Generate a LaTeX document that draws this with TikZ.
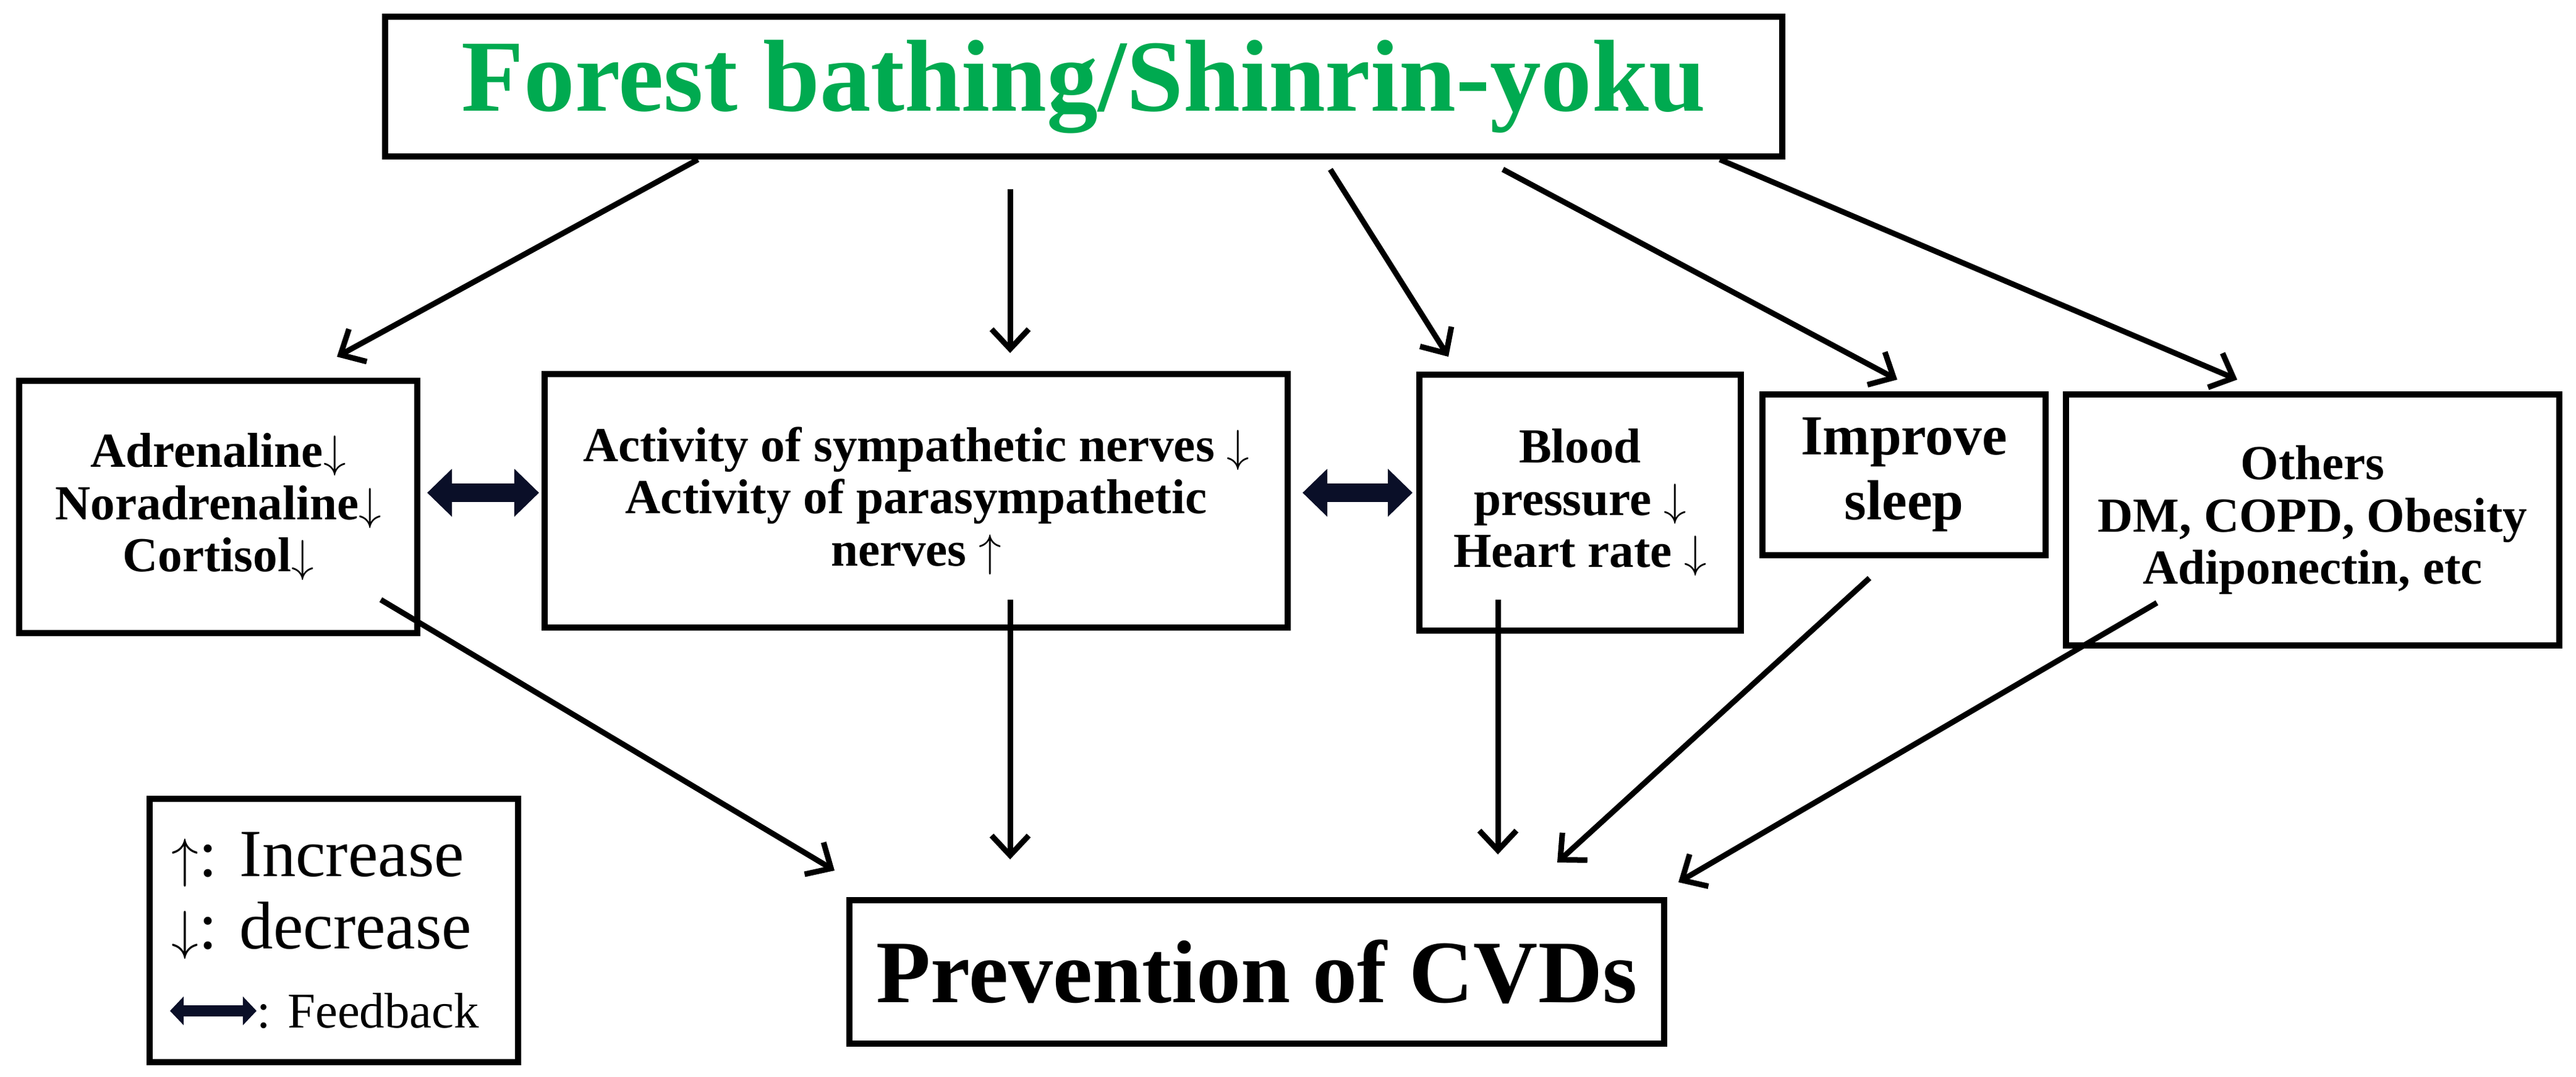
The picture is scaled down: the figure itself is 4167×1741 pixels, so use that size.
\documentclass[tikz,border=0pt]{standalone}
\usepackage{fontspec}
\setmainfont{Liberation Serif}
\newfontfamily\ser{Liberation Serif}
\usetikzlibrary{arrows.meta}
\definecolor{fgreen}{RGB}{0,170,80}
\definecolor{navy}{RGB}{10,15,40}
\begin{document}
\begin{tikzpicture}[x=0.01cm,y=-0.01cm,
  box/.style={draw,line width=0.1cm,inner sep=0pt,font=\ser\bfseries\fontsize{22.5}{24}\selectfont,align=center},
  arr/.style={line width=0.09cm,-{Straight Barb[length=0.32cm,width=0.6cm,line width=0.09cm]}},
  fb/.style={navy,line width=0.3cm,{Triangle[length=0.4cm,width=0.75cm]}-{Triangle[length=0.4cm,width=0.75cm]}}]
\path[use as bounding box,fill=white] (0,0) rectangle (4167,1741);
\node[box,minimum width=22.59cm,minimum height=2.25cm,font=\ser\bfseries\fontsize{47}{50}\selectfont,text=fgreen] (top) at (1753,140) {Forest bathing/Shinrin-yoku};
\node[box,minimum width=6.43cm,minimum height=4.07cm] (adr) at (353,820) {Adrenaline$\downarrow$\\Noradrenaline$\downarrow$\\Cortisol$\downarrow$};
\node[box,minimum width=12.01cm,minimum height=4.09cm] (act) at (1482,810) {Activity of sympathetic nerves $\downarrow$\\Activity of parasympathetic\\nerves $\uparrow$};
\node[box,minimum width=5.2cm,minimum height=4.14cm] (bp) at (2556,813) {Blood\\pressure $\downarrow$\\Heart rate $\downarrow$};
\node[box,minimum width=4.57cm,minimum height=2.6cm,font=\ser\bfseries\fontsize{26}{30}\selectfont] (sl) at (3080,768) {Improve\\sleep};
\node[box,minimum width=7.97cm,minimum height=4.06cm] (oth) at (3741,841) {Others\\DM, COPD, Obesity\\Adiponectin, etc};
\node[box,minimum width=13.18cm,minimum height=2.31cm,font=\ser\bfseries\fontsize{41}{44}\selectfont] (cvd) at (2033,1572) {Prevention of CVDs};
\node[draw,line width=0.1cm,minimum width=5.95cm,minimum height=4.25cm,inner sep=0pt] (leg) at (540,1505) {};
\node[anchor=west,font=\ser\fontsize{31}{34}\selectfont] (l1) at (265,1390) {$\uparrow$: Increase};
\node[anchor=west,font=\ser\fontsize{31}{34}\selectfont] (l2) at (265,1505) {$\downarrow$: decrease};
\coordinate (la) at (275,1635); \coordinate (lb) at (415,1635);
\draw[navy,line width=0.18cm,{Triangle[length=0.22cm,width=0.45cm]}-{Triangle[length=0.22cm,width=0.45cm]}] (la) -- (lb);
\node[anchor=west,font=\ser\fontsize{23}{26}\selectfont,inner sep=0pt] (l3) at (lb) {: Feedback};
% top arrows
\coordinate (t1) at (1129,258); \coordinate (e1) at (545,577);
\coordinate (t2) at (1634,306); \coordinate (e2) at (1634,571);
\coordinate (t3) at (2152,274); \coordinate (e3) at (2343,577);
\coordinate (t4) at (2431,274); \coordinate (e4) at (3069,614);
\coordinate (t5) at (2782,258); \coordinate (e5) at (3619,614);
\draw[arr] (t1) -- (e1); \draw[arr] (t2) -- (e2); \draw[arr] (t3) -- (e3);
\draw[arr] (t4) -- (e4); \draw[arr] (t5) -- (e5);
% bottom arrows
\coordinate (b1) at (616,970); \coordinate (c1) at (1350,1408);
\coordinate (b2) at (1634,970); \coordinate (c2) at (1634,1390);
\coordinate (b3) at (2423,970); \coordinate (c3) at (2423,1382);
\coordinate (b4) at (3024,935); \coordinate (c4) at (2519,1395);
\coordinate (b5) at (3489,975); \coordinate (c5) at (2715,1427);
\draw[arr] (b1) -- (c1); \draw[arr] (b2) -- (c2); \draw[arr] (b3) -- (c3);
\draw[arr] (b4) -- (c4); \draw[arr] (b5) -- (c5);
% feedback
\coordinate (f1) at (691,797); \coordinate (f2) at (872,797);
\coordinate (f3) at (2107,797); \coordinate (f4) at (2285,797);
\draw[fb] (f1) -- (f2);
\draw[fb] (f3) -- (f4);
\end{tikzpicture}
\end{document}
